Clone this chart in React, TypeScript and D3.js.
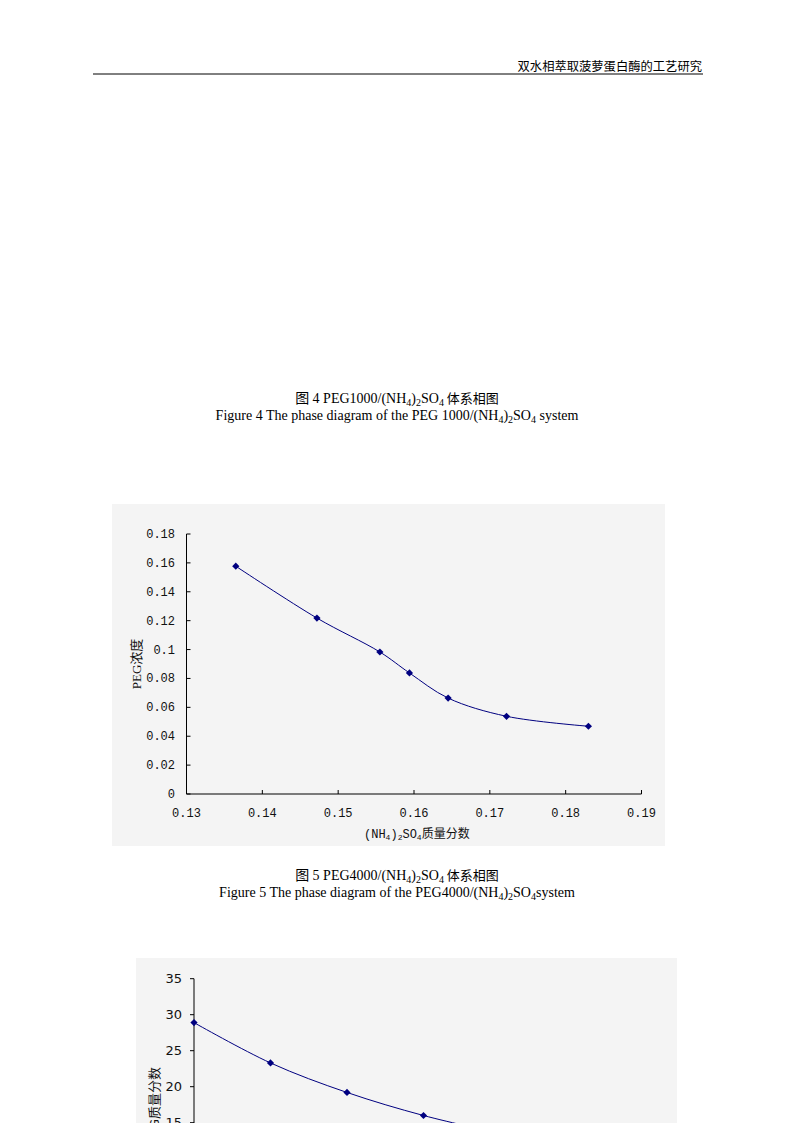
import * as d3 from "d3";

// header and captions
const headerText = "双水相萃取菠萝蛋白酶的工艺研究";

// Figure 5 chart (PEG4000) data
const saltFraction = [0.1365, 0.1472, 0.1555, 0.1594, 0.1645, 0.1722, 0.183];
const pegConc = [0.1577, 0.1218, 0.0983, 0.0838, 0.0664, 0.0538, 0.0469];
const yTicks1 = [0, 0.02, 0.04, 0.06, 0.08, 0.1, 0.12, 0.14, 0.16, 0.18];
const xTicks1 = [0.13, 0.14, 0.15, 0.16, 0.17, 0.18, 0.19];

// next chart, only its top is on the page
const xVals2 = [10, 12, 14, 16, 18];
const yVals2 = [28.9, 23.3, 19.2, 16.0, 13.5];
const yTicks2 = [0, 5, 10, 15, 20, 25, 30, 35];

const NAVY = "#000080";
const serif = "'Liberation Serif', 'Times New Roman', 'Noto Sans CJK SC', serif";
const mono = "'Liberation Mono', 'Noto Sans CJK SC', monospace";
const cjk = "'Noto Sans CJK SC', sans-serif";

const fmt1 = (v: number) => (v === 0 ? "0" : String(v));

function Diamond({ x, y }: { x: number; y: number }) {
  const s = 3.6;
  return (
    <path
      d={`M${x},${y - s}L${x + s},${y}L${x},${y + s}L${x - s},${y}Z`}
      fill={NAVY}
    />
  );
}

function Caption({ y, n, peg, spaced }: { y: number; n: number; peg: string; spaced: boolean }) {
  const sub = { fontSize: 10, dy: 3 };
  return (
    <g fontFamily={serif} fontSize={14} textAnchor="middle" fill="#000">
      <text x={397} y={y}>
        {`图 ${n} PEG${peg}/(NH`}
        <tspan {...sub}>4</tspan>
        <tspan dy={-3}>)</tspan>
        <tspan {...sub}>2</tspan>
        <tspan dy={-3}>SO</tspan>
        <tspan {...sub}>4</tspan>
        <tspan dy={-3} fontFamily={cjk} fontSize={13}> 体系相图</tspan>
      </text>
      <text x={397} y={y + 17}>
        {`Figure ${n} The phase diagram of the PEG${spaced ? " " : ""}${peg}/(NH`}
        <tspan {...sub}>4</tspan>
        <tspan dy={-3}>)</tspan>
        <tspan {...sub}>2</tspan>
        <tspan dy={-3}>SO</tspan>
        <tspan {...sub}>4</tspan>
        <tspan dy={-3}>{spaced ? " system" : "system"}</tspan>
      </text>
    </g>
  );
}

function Chart1() {
  const x = d3.scaleLinear().domain([0.13, 0.19]).range([186.5, 641.5]);
  const y = d3.scaleLinear().domain([0, 0.18]).range([794, 534]);
  const pts = saltFraction.map((s, i) => [x(s), y(pegConc[i])] as [number, number]);
  const line = d3.line().curve(d3.curveCatmullRom.alpha(0.5))(pts) || "";
  return (
    <g>
      <rect x={112} y={504} width={553} height={342} fill="#f4f4f4" />
      <line x1={x(0.13)} x2={x(0.13)} y1={y(0.18)} y2={y(0)} stroke="#000" strokeWidth={1} />
      <line x1={x(0.13)} x2={x(0.19)} y1={y(0)} y2={y(0)} stroke="#000" strokeWidth={1} />
      {yTicks1.map((t) => (
        <g key={t}>
          <line x1={x(0.13)} x2={x(0.13) + 4} y1={y(t)} y2={y(t)} stroke="#000" />
          <text x={175} y={y(t) + 4} textAnchor="end" fontFamily={mono} fontSize={12} fill="#111">
            {fmt1(t)}
          </text>
        </g>
      ))}
      {xTicks1.map((t) => (
        <g key={t}>
          <line x1={x(t)} x2={x(t)} y1={y(0)} y2={y(0) - 4} stroke="#000" />
          <text x={x(t)} y={817} textAnchor="middle" fontFamily={mono} fontSize={12} fill="#111">
            {String(t)}
          </text>
        </g>
      ))}
      <path d={line} fill="none" stroke={NAVY} strokeWidth={1} />
      {pts.map((p, i) => (
        <Diamond key={i} x={p[0]} y={p[1]} />
      ))}
      <text
        transform={`translate(141,${y(0.09)}) rotate(-90)`}
        textAnchor="middle"
        fontSize={13}
        fill="#111"
      >
        <tspan fontFamily={serif}>PEG</tspan>
        <tspan fontFamily={cjk}>浓度</tspan>
      </text>
      <text x={364} y={838} fontSize={12} fill="#111">
        <tspan fontFamily={mono}>(NH</tspan>
        <tspan fontFamily={mono} fontSize={8} dy={2}>4</tspan>
        <tspan fontFamily={mono} dy={-2}>)</tspan>
        <tspan fontFamily={mono} fontSize={8} dy={2}>2</tspan>
        <tspan fontFamily={mono} dy={-2}>SO</tspan>
        <tspan fontFamily={mono} fontSize={8} dy={2}>4</tspan>
        <tspan fontFamily={cjk} dy={-2}>质量分数</tspan>
      </text>
    </g>
  );
}

function Chart2() {
  const x = d3.scaleLinear().domain([10, 22]).range([194, 653]);
  const y = d3.scaleLinear().domain([0, 35]).range([1230.7, 978.7]);
  const pts = xVals2.map((v, i) => [x(v), y(yVals2[i])] as [number, number]);
  const line = d3.line().curve(d3.curveCatmullRom.alpha(0.5))(pts) || "";
  return (
    <g>
      <rect x={136} y={958} width={541} height={300} fill="#f4f4f4" />
      <line x1={x(10)} x2={x(10)} y1={y(35)} y2={y(0)} stroke="#000" />
      {yTicks2.map((t) => (
        <g key={t}>
          <line x1={x(10)} x2={x(10) - 4} y1={y(t)} y2={y(t)} stroke="#000" />
          <text
            x={182}
            y={y(t) + 4.5}
            textAnchor="end"
            fontFamily="'DejaVu Sans', sans-serif"
            fontSize={13}
            fill="#111"
          >
            {t}
          </text>
        </g>
      ))}
      <path d={line} fill="none" stroke={NAVY} strokeWidth={1} />
      {pts.map((p, i) => (
        <Diamond key={i} x={p[0]} y={p[1]} />
      ))}
      <text
        transform={`translate(159,1067) rotate(-90)`}
        textAnchor="end"
        fontSize={13}
        fill="#111"
      >
        <tspan fontFamily="'DejaVu Sans', sans-serif">PEG</tspan>
        <tspan fontFamily={cjk}>质量分数</tspan>
      </text>
    </g>
  );
}

export default function App() {
  return (
    <div
      style={{
        position: "absolute",
        left: 0,
        top: 0,
        width: 794,
        height: 1123,
        overflow: "hidden",
        background: "#fff",
      }}
    >
      <svg width={794} height={1123} style={{ display: "block" }}>
        <text x={702} y={71} textAnchor="end" fontFamily={cjk} fontSize={12.3} fill="#000">
          {headerText}
        </text>
        <line x1={93} x2={703} y1={74} y2={74} stroke="#000" strokeWidth={1} />
        <Caption y={403} n={4} peg="1000" spaced={true} />
        <Chart1 />
        <Caption y={880} n={5} peg="4000" spaced={false} />
        <Chart2 />
      </svg>
    </div>
  );
}
